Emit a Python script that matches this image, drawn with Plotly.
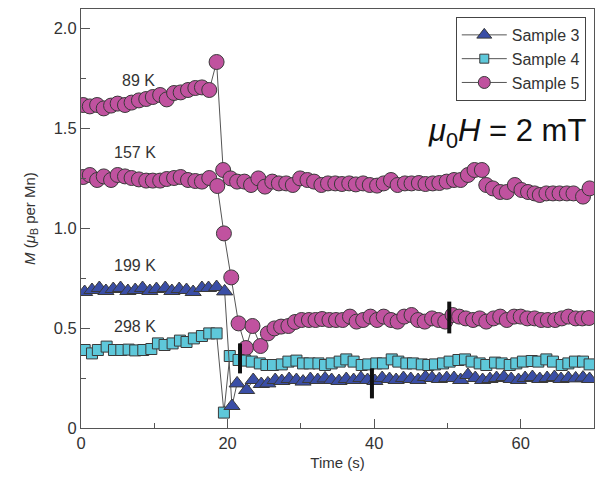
import plotly.graph_objects as go

# ---------------- data ----------------
# Sample 5 (circles), 89 K run
t5_89 = [0.3, 1.2, 2.2, 3.1, 4.1, 5.0, 6.0, 6.9, 7.9, 8.9, 9.8, 10.8, 11.7, 12.7, 13.6, 14.6, 15.6, 16.5, 17.5, 18.5,
         19.4, 20.4, 21.3, 22.3, 23.2, 24.2, 25.1, 26.1, 27.0, 28.0, 28.9, 29.9, 30.9, 31.8, 32.8, 33.7, 34.7, 35.6,
         36.6, 37.5, 38.5, 39.4, 40.4, 41.3, 42.3, 43.2, 44.2, 45.1, 46.1, 47.0, 48.0, 48.9, 49.9, 50.9, 51.8, 52.8,
         53.7, 54.7,
         55.3, 56.2, 57.2, 58.1, 59.2, 60.1, 61.0, 61.9, 62.6, 63.5, 64.4, 65.3, 66.3, 67.2, 68.5, 69.4]
m5_89 = [1.615, 1.608, 1.615, 1.598, 1.612, 1.622, 1.615, 1.627, 1.638, 1.645, 1.655, 1.665, 1.643, 1.675, 1.678,
         1.690, 1.700, 1.703, 1.690, 1.830,
         1.290, 1.248, 1.232, 1.232, 1.215, 1.248, 1.207, 1.232, 1.223, 1.223, 1.215, 1.248, 1.240, 1.232, 1.215,
         1.223, 1.223, 1.220, 1.223, 1.218, 1.223, 1.215, 1.212, 1.223, 1.240, 1.215, 1.223, 1.223, 1.225, 1.220,
         1.223, 1.225, 1.232, 1.240, 1.240, 1.265, 1.290, 1.290,
         1.215, 1.198, 1.180, 1.180, 1.215, 1.190, 1.180, 1.173, 1.165, 1.173, 1.173, 1.173, 1.173, 1.173, 1.157, 1.198]

# Sample 5 (circles), 157 K run
t5_157 = [0.3, 1.2, 2.2, 3.1, 4.1, 5.0, 6.0, 6.9, 7.9, 8.9, 9.8, 10.8, 11.7, 12.7, 13.6, 14.6, 15.6, 16.5, 17.5, 18.6,
          19.5, 20.5, 21.5, 22.5, 23.4, 24.5, 25.5, 26.4, 27.3, 28.3, 29.2, 30.1, 31.1, 32.0, 32.9, 33.9, 34.8, 35.7,
          36.7, 37.6, 38.5, 39.5, 40.4, 41.3, 42.3, 43.2, 44.1, 45.1, 46.0, 46.9, 47.9, 48.8, 49.7, 50.7, 51.6, 52.5,
          53.5, 54.4, 55.3, 56.3, 57.2, 58.1, 59.1, 60.0, 60.9, 61.9, 62.8, 63.7, 64.7, 65.6, 66.5, 67.5, 68.4, 69.3]
m5_157 = [1.255, 1.265, 1.240, 1.258, 1.240, 1.265, 1.258, 1.250, 1.243, 1.237, 1.237, 1.237, 1.245, 1.250, 1.255,
          1.240, 1.235, 1.232, 1.250, 1.210,
          0.973, 0.753, 0.523, 0.400, 0.510, 0.410, 0.473, 0.498, 0.507, 0.510, 0.530, 0.540, 0.540, 0.540, 0.545,
          0.540, 0.540, 0.540, 0.557, 0.532, 0.540, 0.557, 0.540, 0.557, 0.540, 0.532, 0.557, 0.565, 0.540, 0.532,
          0.548, 0.540, 0.532, 0.565, 0.557, 0.548, 0.540, 0.548, 0.532, 0.548, 0.557, 0.540, 0.557, 0.557, 0.548,
          0.548, 0.540, 0.540, 0.540, 0.548, 0.557, 0.548, 0.548, 0.550]

# Sample 4 (squares), 298 K run
t4 = [0.5, 1.5, 2.3, 3.5, 4.5, 5.5, 6.5, 7.4, 8.5, 9.6, 10.5, 11.4, 12.5, 13.5, 14.4, 15.4, 16.5, 17.5, 18.5,
      19.5,
      20.3, 21.5, 22.4, 23.3, 24.4, 25.3, 26.2, 27.4, 28.3, 29.4, 30.3, 31.2, 32.4, 33.3, 34.2, 35.3, 36.2, 37.2,
      38.3, 39.2, 40.3, 41.2, 42.4, 43.3, 44.4, 45.3, 46.5, 47.4, 48.3, 49.4, 50.3, 51.5, 52.4, 53.3, 54.4, 55.3,
      56.5, 57.4, 58.5, 59.4, 60.3, 61.5, 62.4, 63.5, 64.4, 65.6, 66.5, 67.4, 68.5, 69.4]
m4 = [0.390, 0.373, 0.390, 0.407, 0.390, 0.390, 0.392, 0.388, 0.390, 0.395, 0.423, 0.415, 0.423, 0.437, 0.430,
      0.448, 0.460, 0.473, 0.473,
      0.077,
      0.360, 0.340, 0.337, 0.332, 0.323, 0.315, 0.315, 0.318, 0.332, 0.337, 0.323, 0.323, 0.323, 0.315, 0.323,
      0.332, 0.343, 0.332, 0.315, 0.318, 0.323, 0.323, 0.343, 0.332, 0.323, 0.323, 0.318, 0.315, 0.318, 0.323,
      0.332, 0.340, 0.343, 0.332, 0.323, 0.315, 0.327, 0.323, 0.315, 0.323, 0.332, 0.335, 0.332, 0.343, 0.332,
      0.315, 0.323, 0.332, 0.332, 0.318]

# Sample 3 (triangles), 199 K run
t3 = [0.5, 1.5, 2.5, 3.4, 4.4, 5.4, 6.4, 7.4, 8.4, 9.4, 10.3, 11.5, 12.4, 13.4, 14.4, 15.3, 16.5, 17.4, 18.5, 19.6,
      20.6, 21.3, 22.6, 23.5, 24.6, 25.5, 26.5,
      27.4, 28.4, 29.4, 30.3, 31.3, 32.3, 33.3, 34.2, 35.2, 36.2, 37.2, 38.2, 39.1, 40.1, 41.1, 42.1, 43.0, 44.0,
      45.0, 46.0, 47.0, 47.9, 48.9, 49.9, 50.9, 51.8, 52.8, 53.8, 54.8, 55.8, 56.7, 57.7, 58.7, 59.7, 60.6, 61.6,
      62.6, 63.6, 64.6, 65.5, 66.5, 67.5, 68.5, 69.4]
m3 = [0.680, 0.690, 0.700, 0.685, 0.695, 0.700, 0.685, 0.690, 0.700, 0.685, 0.695, 0.700, 0.685, 0.695, 0.690,
      0.680, 0.700, 0.700, 0.705, 0.683,
      0.110, 0.223, 0.190, 0.240, 0.220, 0.223, 0.240,
      0.235, 0.245, 0.240, 0.232, 0.245, 0.240, 0.248, 0.240, 0.235, 0.245, 0.240, 0.250, 0.240, 0.235, 0.250,
      0.245, 0.240, 0.250, 0.245, 0.240, 0.255, 0.250, 0.245, 0.250, 0.250, 0.240, 0.265, 0.250, 0.240, 0.245,
      0.250, 0.255, 0.245, 0.240, 0.250, 0.255, 0.245, 0.250, 0.255, 0.245, 0.250, 0.248, 0.252, 0.245]

# thick black marker bars (time, lower M, upper M)
bar_t = [21.7, 39.7, 50.25]
bar_lo = [0.273, 0.148, 0.473]
bar_hi = [0.423, 0.298, 0.632]

# temperature labels
temp_text = ["89 K", "157 K", "199 K", "298 K"]
temp_t = [7.9, 7.4, 7.4, 7.4]
temp_m = [1.74, 1.38, 0.815, 0.51]

x_ticks = [0, 20, 40, 60]
y_ticks = [0, 0.5, 1.0, 1.5, 2.0]
y_ticktext = ["0", "0.5", "1.0", "1.5", "2.0"]

legend_names = ["Sample 3", "Sample 4", "Sample 5"]

# ---------------- style ----------------
NARROW = "Liberation Sans Narrow, Arial Narrow, Liberation Sans, Arial, sans-serif"
TXT = "#333333"
LINE = "#555555"
C5, C4, C3 = "#C0529F", "#5EC8DA", "#3A4EA6"
EDGE = "#3a3a3a"

fig = go.Figure()
fig.add_trace(go.Scatter(x=t5_89, y=m5_89, mode="lines+markers", name="Sample 5", showlegend=False,
                         line=dict(color=LINE, width=1),
                         marker=dict(symbol="circle", size=15, color=C5, line=dict(color=EDGE, width=1))))
fig.add_trace(go.Scatter(x=t5_157, y=m5_157, mode="lines+markers", name="Sample 5",
                         showlegend=False, line=dict(color=LINE, width=1),
                         marker=dict(symbol="circle", size=15, color=C5, line=dict(color=EDGE, width=1))))
fig.add_trace(go.Scatter(x=t4, y=m4, mode="lines+markers", name="Sample 4", showlegend=False,
                         line=dict(color=LINE, width=1),
                         marker=dict(symbol="square", size=11, color=C4, line=dict(color=EDGE, width=1))))
fig.add_trace(go.Scatter(x=t3, y=m3, mode="lines+markers", name="Sample 3", showlegend=False,
                         line=dict(color=LINE, width=1),
                         marker=dict(symbol="triangle-up", size=14, color=C3, line=dict(color=EDGE, width=1))))
for bt, lo, hi in zip(bar_t, bar_lo, bar_hi):
    fig.add_trace(go.Scatter(x=[bt, bt], y=[lo, hi], mode="lines", showlegend=False,
                             line=dict(color="#111111", width=4), hoverinfo="skip"))

# legend-only entries (smaller symbols, as in the reference legend)
for name, sym, col, sz in zip(legend_names, ["triangle-up", "square", "circle"], [C3, C4, C5], [13, 9, 12]):
    fig.add_trace(go.Scatter(x=[None], y=[None], mode="lines+markers", name=name,
                             line=dict(color=LINE, width=1),
                             marker=dict(symbol=sym, size=sz, color=col, line=dict(color=EDGE, width=1))))

for txt, tt, mm in zip(temp_text, temp_t, temp_m):
    fig.add_annotation(x=tt, y=mm, text=txt, showarrow=False, xanchor="center", yanchor="middle",
                       font=dict(family=NARROW, size=16, color=TXT))

fig.add_annotation(x=0.988, y=0.704, xref="paper", yref="paper", xanchor="right", yanchor="middle",
                   text="<i>μ</i><sub>0</sub><i>H</i> = 2 mT", showarrow=False,
                   font=dict(family="Liberation Sans, Arial, sans-serif", size=31, color="#111111"))

axis_common = dict(showline=True, linecolor=LINE, linewidth=1.2, mirror=True, showgrid=False, zeroline=False,
                   ticks="inside", ticklen=9, tickwidth=1.2, tickcolor=LINE,
                   tickfont=dict(family=NARROW, size=16.5, color=TXT))
fig.update_xaxes(range=[0, 70], tickvals=x_ticks,
                 minor=dict(tickvals=[10, 30, 50], ticks="inside", ticklen=5, tickwidth=1.2, tickcolor=LINE),
                 title=dict(text="Time (s)", font=dict(family=NARROW, size=15, color=TXT), standoff=6),
                 **axis_common)
fig.update_yaxes(range=[0, 2.095], tickvals=y_ticks, ticktext=y_ticktext,
                 minor=dict(tickvals=[0.25, 0.75, 1.25, 1.75], ticks="inside", ticklen=5, tickwidth=1.2,
                            tickcolor=LINE),
                 title=dict(text="<i>M</i> (<i>μ</i><sub>B</sub> per Mn)",
                            font=dict(family=NARROW, size=15, color=TXT), standoff=14),
                 **axis_common)

fig.update_layout(width=597, height=477, margin=dict(l=81, r=3, t=9, b=49),
                  plot_bgcolor="white", paper_bgcolor="white",
                  font=dict(family=NARROW, size=16, color=TXT),
                  showlegend=True,
                  legend=dict(x=0.984, y=0.981, xanchor="right", yanchor="top", traceorder="normal",
                              bgcolor="white", bordercolor="#444444", borderwidth=1,
                              font=dict(family=NARROW, size=16, color=TXT), itemwidth=45,
                              tracegroupgap=0))

fig.write_html("out.html")
